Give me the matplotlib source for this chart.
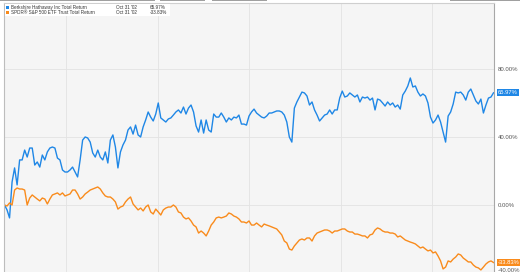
import numpy as np
import pandas as pd
import matplotlib
matplotlib.use("Agg")
import matplotlib.pyplot as plt
from matplotlib.patches import Rectangle
from matplotlib.transforms import ScaledTranslation

# total return (%), roughly every 5 days, Mar 2000 - Oct 2002
brk_return = [
    0, -2.9, -7.6, 13.5, 21.8, 11.8, 26.5, 26.5, 32.3, 28.2,
    33.5, 33.5, 23.5, 25.3, 22.3, 29.4, 26.5, 31.2, 33.5, 34.1,
    33.5, 27.6, 26.5, 20.6, 19.4, 19.4, 20.6, 22.3, 19.4, 16.5,
    26.5, 38.2, 40.0, 39.4, 37.0, 30.6, 28.2, 32.3, 28.2, 26.5,
    31.2, 24.7, 38.2, 41.2, 34.1, 21.8, 31.2, 35.3, 38.2, 44.1,
    45.9, 41.7, 47.0, 41.2, 40.0, 45.9, 50.0, 54.7, 51.7, 49.4,
    53.5, 60.0, 51.2, 50.0, 48.8, 50.6, 51.2, 52.9, 54.7, 55.9,
    54.1, 57.6, 53.5, 57.0, 58.8, 54.7, 46.5, 42.9, 50.0, 42.3,
    50.0, 44.1, 42.9, 53.5, 51.7, 51.7, 54.1, 51.7, 48.8, 51.2,
    50.0, 51.7, 51.2, 52.9, 47.6, 47.6, 47.0, 52.3, 54.7, 56.4,
    54.1, 52.9, 51.7, 51.2, 52.3, 54.1, 54.1, 54.7, 55.3, 55.3,
    54.7, 52.9, 48.8, 40.0, 37.0, 57.0, 60.6, 63.5, 66.4, 65.9,
    64.1, 58.8, 60.6, 55.9, 52.9, 49.4, 51.2, 52.9, 53.5, 55.9,
    53.5, 55.9, 55.9, 63.0, 67.0, 63.5, 64.1, 65.9, 64.7, 63.5,
    64.7, 60.6, 63.5, 62.9, 63.5, 61.7, 62.9, 55.9, 62.3, 61.7,
    60.0, 58.2, 60.6, 58.8, 60.0, 57.6, 58.8, 56.4, 64.7, 67.0,
    70.0, 74.7, 69.4, 70.0, 66.4, 64.1, 65.3, 64.1, 60.0, 51.7,
    48.2, 50.0, 52.9, 48.8, 42.9, 37.0, 52.3, 54.7, 59.4, 66.4,
    65.9, 66.4, 64.7, 61.7, 66.4, 68.2, 64.7, 61.2, 59.4, 62.3,
    54.1, 58.8, 62.9, 63.5, 65.97,
]
spy_return = [
    0, -0.6, 1.2, 0, 8.8, 10.0, 9.4, 9.4, 8.8, 0,
    4.1, 5.9, 4.7, 3.5, 2.4, 4.1, 3.5, 0.6, 3.5, 5.9,
    6.5, 7.1, 5.9, 7.1, 5.3, 5.9, 6.5, 8.8, 8.8, 6.5,
    3.5, 4.7, 6.5, 7.6, 8.8, 9.4, 10.0, 10.6, 9.4, 7.1,
    5.3, 4.7, 4.7, 3.5, 1.8, -2.4, -1.2, -0.6, 1.8, 3.5,
    4.7, 0.6, -1.2, -2.9, -1.8, -3.5, -1.2, 0, -4.1, -5.3,
    -2.4, -4.1, -5.9, -2.9, -1.8, -1.2, -1.2, 0, -1.2, -4.1,
    -4.7, -7.1, -8.2, -7.6, -9.4, -11.8, -12.9, -16.5, -15.3, -16.5,
    -18.2, -15.3, -11.8, -10.0, -7.6, -7.1, -7.6, -7.1, -6.5, -4.7,
    -5.3, -6.5, -7.1, -8.2, -10.0, -10.0, -10.6, -9.4, -11.8, -11.8,
    -10.6, -11.8, -12.9, -11.2, -11.8, -12.3, -12.9, -13.5, -14.1, -15.9,
    -17.6, -21.2, -22.3, -25.9, -26.5, -24.1, -22.3, -20.6, -20.0, -20.6,
    -19.4, -19.4, -21.2, -18.2, -16.5, -15.9, -15.3, -14.7, -14.7, -15.3,
    -16.5, -15.3, -15.3, -14.7, -14.1, -14.1, -15.3, -15.9, -15.9, -17.1,
    -17.1, -17.6, -18.2, -18.2, -19.4, -17.6, -17.1, -14.7, -13.5, -14.1,
    -15.3, -15.9, -15.9, -16.5, -16.5, -17.1, -18.8, -18.2, -19.4, -20.6,
    -21.2, -21.8, -22.3, -22.9, -24.1, -25.3, -24.7, -25.9, -27.0, -26.5,
    -28.2, -27.6, -30.0, -32.9, -37.6, -36.5, -32.9, -33.5, -31.8, -30.6,
    -28.8, -29.4, -31.2, -32.3, -33.5, -33.5, -35.3, -36.5, -37.0, -38.2,
    -36.5, -34.7, -33.5, -32.9, -33.83,
]
dates = pd.date_range("2000-03-01", "2002-10-31", periods=len(brk_return))

names = ["Berkshire Hathaway Inc Total Return", "SPDR\u00ae S&P 500 ETF Trust Total Return"]
end_label = "Oct 31 '02"
y_ticks = [-40, 0, 40, 80]
x_grid = pd.to_datetime(["2000-07-01", "2001-01-01", "2001-07-01", "2002-01-01", "2002-07-01"])

blue = "#1f87e6"
orange = "#f98b1c"

W, H = 520, 272
fig = plt.figure(figsize=(W / 100, H / 100), dpi=100)
fig.patch.set_facecolor("white")

def px_rect(x, y, w, h, color):
    fig.add_artist(Rectangle((x / W, 1 - (y + h) / H), w / W, h / H,
                             transform=fig.transFigure, fc=color, ec="none"))

ax = fig.add_axes([4 / W, -4.4 / H, 490 / W, 273.4 / H])
ax.set_facecolor("#f5f5f5")

ax.plot(dates, brk_return, color=blue, lw=1.0, solid_joinstyle="round")
ax.plot(dates, spy_return, color=orange, lw=1.0, solid_joinstyle="round")

ax.set_xlim(pd.Timestamp("2000-02-29"), pd.Timestamp("2002-11-01"))
ax.set_ylim(-42, 118.8)

ax.set_xticks(x_grid)
ax.set_xticklabels([])
ax.set_yticks(y_ticks)
ax.set_yticklabels([f"{v:.2f}%" for v in y_ticks])
ax.yaxis.tick_right()
ax.tick_params(axis="both", length=0)
ax.tick_params(axis="y", pad=3, labelsize=4.3, labelcolor="#555555")
for t in ax.get_yticklabels():
    t.set_fontfamily("Liberation Sans")
# lowest label sits at the bottom edge, nudge it up so it stays readable
low = ax.get_yticklabels()[0]
low.set_transform(low.get_transform() + ScaledTranslation(0, 3 / 100, fig.dpi_scale_trans))
ax.grid(color="#e3e3e3", lw=0.6)
ax.set_axisbelow(True)

ax.spines["bottom"].set_visible(False)
ax.spines["left"].set_color("#bdbdbd")
ax.spines["right"].set_color("#a8a8a8")
ax.spines["top"].set_color("#cfcfcf")
for s in ["left", "right", "top"]:
    ax.spines[s].set_linewidth(0.8)

# end value badges
for vals, col in [(brk_return, blue), (spy_return, orange)]:
    ax.text(1.008, vals[-1], f"{vals[-1]:.2f}%", transform=ax.get_yaxis_transform(),
            ha="left", va="center", fontsize=4.2, color="white", family="Liberation Sans",
            clip_on=False,
            bbox=dict(boxstyle="square,pad=0.18", fc=col, ec="none"))

# legend box top-left
px_rect(5, 4, 165, 12, "white")
for i, (name, vals, col) in enumerate([(names[0], brk_return, blue), (names[1], spy_return, orange)]):
    yy = 7.2 + i * 5.6
    px_rect(6, yy - 1.5, 3, 3, col)
    fig.text(11 / W, 1 - yy / H, name, fontsize=3.3, color="#333333", va="center",
             family="Liberation Sans")
    fig.text(116 / W, 1 - yy / H, end_label, fontsize=3.3, color="#333333", va="center",
             family="Liberation Sans")
    fig.text(150 / W, 1 - yy / H, f"{vals[-1]:.2f}%", fontsize=3.3, color="#333333",
             va="center", family="Liberation Sans")

# bits of the page toolbar cut off at the top
for x0, x1 in [(0, 155), (160, 205), (212, 267), (450, 520)]:
    px_rect(x0, 0, x1 - x0, 1.4, "#a0a0a0")

fig.savefig("out.png", dpi=100, facecolor="white")
